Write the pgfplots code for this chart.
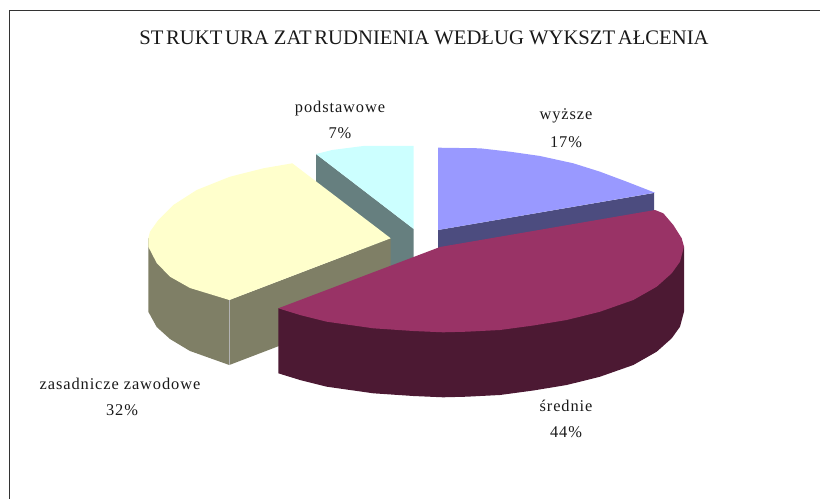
\documentclass[border=0pt]{standalone}
\usepackage{fontspec}
\setmainfont{Liberation Serif}
\usepackage{pgfplots}
\pgfplotsset{compat=1.18}
\definecolor{blueT}{HTML}{9999FF}
\definecolor{blueS}{HTML}{4C4C7F}
\definecolor{plumT}{HTML}{993366}
\definecolor{plumS}{HTML}{4C1933}
\definecolor{yelT}{HTML}{FFFFCC}
\definecolor{yelS}{HTML}{7F7F66}
\definecolor{cyanT}{HTML}{CCFFFF}
\definecolor{cyanS}{HTML}{667F7F}
\tikzset{lbl/.style={anchor=base, font=\fontsize{12.3}{14}\selectfont\addfontfeatures{LetterSpace=5.5}, text=black!90}}
\begin{document}
\begin{tikzpicture}
\begin{axis}[
    scale only axis, width=615pt, height=374.25pt,
    xmin=0, xmax=820, ymin=0, ymax=499, y dir=reverse,
    hide axis,
]
% keeps the whole canvas in the bounding box
\path (axis cs:0,0) rectangle (axis cs:820,499);
% chart frame, open at the bottom and on the right
\addplot[draw=black!80, line width=1.4pt] coordinates {(9.5,499)(9.5,10.5)(820,10.5)};
% podstawowe
\addplot[fill=cyanS, draw=none] coordinates {(316,154)(413.7,229)(413.7,294)(316,219)} --cycle;
\addplot[fill=cyanT, draw=none] coordinates {(316,154)(332,150)(363.3,146)(413.7,146)(413.7,229)} --cycle;
% wyzsze
\addplot[fill=blueS, draw=none] coordinates {(438,230)(654,193)(654,258)(438,295)} --cycle;
\addplot[fill=blueT, draw=none] coordinates {(438,147.7)(480,148.3)(510,151.7)(540,156)(573.3,163.3)(600,171.7)(626.7,181.7)(655,192.7)(438,230)} --cycle;
% zasadnicze zawodowe
\addplot[fill=yelS, draw=none] coordinates {(148.3,238)(148.3,311.7)(156.7,327)(170,339)(190,351)(229.3,365)(229.3,300)} --cycle;
\addplot[fill=yelS, draw=none] coordinates {(229.3,300)(390.7,238.3)(390.7,303.3)(229.3,365)} --cycle;
\addplot[draw=black!30!white, line width=0.4pt] coordinates {(229.3,300)(229.3,365)};
\addplot[fill=yelT, draw=none] coordinates {(292.3,163.3)(263.3,168.3)(230,176.7)(196.7,190)(173.3,205)(158.3,220)(150,231.7)(148.3,238.3)(148.3,246.7)(156.7,263)(170,276.7)(190,288)(229.3,300)(390.7,238.3)} --cycle;
% srednie
\addplot[fill=plumS, draw=none] coordinates {(278.3,308.3)(278.3,373.3)(300,380)(326.7,386.7)(373.3,393.3)(413.3,396)(443,397.3)(466.7,396.7)(500,395)(533.3,390.5)(566.7,385)(600,376.7)(633.3,365)(656.7,351.7)(671.7,338.3)(680,326.7)(684,311.7)(684,246.7)} --cycle;
\addplot[fill=plumT, draw=none] coordinates {(278.3,308.3)(300,315)(326.7,321.7)(373.3,328.3)(413.3,331)(443,332.3)(466.7,331.7)(500,330)(533.3,325.5)(566.7,320)(600,311.7)(633.3,300)(656.7,286.7)(671.7,273.3)(680,261.7)(684,246.7)(681.7,238.3)(673.3,225)(663.3,213.3)(655,210)(440,247)} --cycle;
% title and labels
\node[anchor=base, font=\fontsize{15.5}{17}\selectfont, text=black!90] at (axis cs:424,45)
  {ST\kern2pt RUKT\kern2pt URA ZAT\kern2pt RUDNIENIA WEDŁUG WYKSZT\kern2pt AŁCENIA};
\node[lbl] at (axis cs:340,113) {podstawowe};
\node[lbl] at (axis cs:340,139) {7\%};
\node[lbl] at (axis cs:566,120) {wyższe};
\node[lbl] at (axis cs:566,147) {17\%};
\node[lbl] at (axis cs:120,389) {zasadnicze zawodowe};
\node[lbl] at (axis cs:122,415) {32\%};
\node[lbl] at (axis cs:566,411) {średnie};
\node[lbl] at (axis cs:566,437) {44\%};
\end{axis}
\end{tikzpicture}
\end{document}
